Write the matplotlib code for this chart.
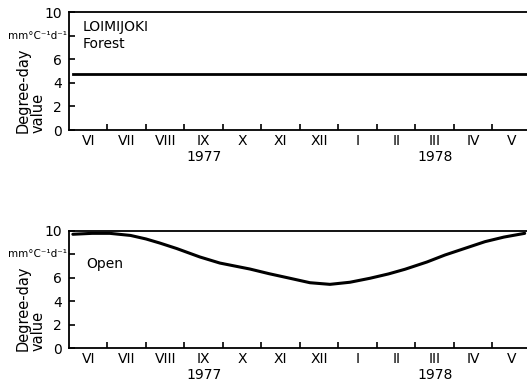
import numpy as np
import matplotlib
matplotlib.use("Agg")
import matplotlib.pyplot as plt

# months counted from 1 June 1977
months = ["VI", "VII", "VIII", "IX", "X", "XI", "XII", "I", "II", "III", "IV", "V"]
year_labels = {3: "1977", 9: "1978"}

# forest: constant degree-day value
forest_x = [0.1, 11.9]
forest_y = [4.72, 4.72]

# open: values
open_x = [0.10, 0.6, 1.06, 1.6, 2.0, 2.36, 2.8, 3.4, 3.92, 4.70, 5.2, 5.74, 6.26,
          6.78, 7.30, 7.82, 8.3, 8.73, 9.3, 9.77, 10.29, 10.81, 11.3, 11.84]
open_y = [9.72, 9.80, 9.80, 9.62, 9.32, 8.97, 8.50, 7.78, 7.26, 6.75, 6.35, 5.96, 5.58,
          5.44, 5.62, 5.96, 6.33, 6.73, 7.35, 7.95, 8.52, 9.09, 9.48, 9.80]

plt.rcParams["font.family"] = "DejaVu Sans"
FS = 10

fig = plt.figure(figsize=(5.27, 3.89), dpi=100)
W, H = 527, 389


def make_ax(top_px, bot_px):
    return fig.add_axes([69 / W, 1 - bot_px / H, 1 - 69 / W, (bot_px - top_px) / H])


def style(ax, bot_px):
    ax.set_xlim(0, 11.9)
    ax.set_ylim(0, 10)
    ax.spines["right"].set_visible(False)
    for s in ("top", "left", "bottom"):
        ax.spines[s].set_linewidth(1.3)
    ax.set_yticks([0, 2, 4, 6, 8, 10])
    ax.set_yticklabels(["0", "2", "4", "6", "", "10"])
    ax.tick_params(axis="y", direction="in", length=4, width=1.2, pad=5, labelsize=FS)
    ax.set_xticks(range(1, 12))
    ax.set_xticklabels([])
    ax.tick_params(axis="x", which="major", direction="in", length=4, width=1.2)
    centers = np.arange(12) + 0.5
    ax.set_xticks(centers, minor=True)
    labs = [m + ("\n" + year_labels[i] if i in year_labels else "")
            for i, m in enumerate(months)]
    ax.set_xticklabels(labs, minor=True, fontsize=FS, linespacing=1.2)
    ax.tick_params(axis="x", which="minor", length=0, pad=3)
    ax.text(-0.005, 0.8, "mm°C⁻¹d⁻¹", transform=ax.transAxes, ha="right",
            va="center", fontsize=7.5)
    fig.text(16 / W, 1 - (bot_px + 3) / H, "Degree-day\nvalue", rotation=90,
             ha="left", va="bottom", multialignment="left", fontsize=10.5,
             linespacing=1.0)


ax1 = make_ax(12, 130)
style(ax1, 130)
ax1.plot(forest_x, forest_y, color="black", lw=2)
ax1.text(0.03, 0.80, "LOIMIJOKI\nForest", transform=ax1.transAxes, ha="left",
         va="center", fontsize=FS, linespacing=1.3)

ax2 = make_ax(231, 348)
style(ax2, 348)
ax2.plot(open_x, open_y, color="black", lw=2.2, solid_capstyle="round")
ax2.text(0.037, 0.72, "Open", transform=ax2.transAxes, ha="left", va="center",
         fontsize=FS)

fig.savefig("out.png", dpi=100, facecolor="white")
